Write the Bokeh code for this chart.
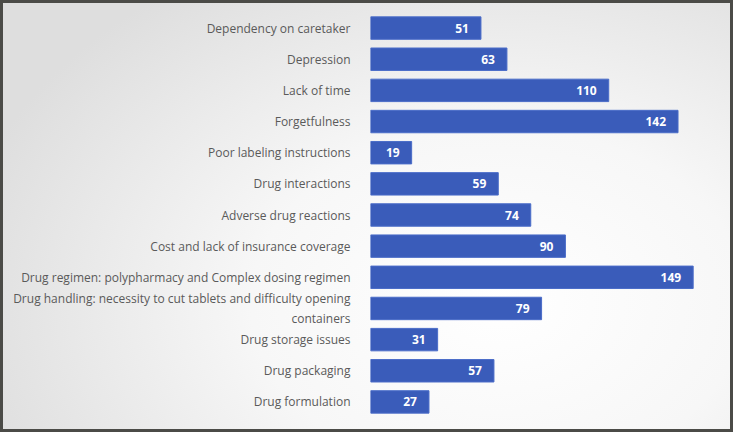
from bokeh.plotting import figure
from bokeh.models import ColumnDataSource, Range1d
from bokeh.core.properties import value
from bokeh.embed import file_html
from bokeh.resources import INLINE

categories = [
    "Dependency on caretaker",
    "Depression",
    "Lack of time",
    "Forgetfulness",
    "Poor labeling instructions",
    "Drug interactions",
    "Adverse drug reactions",
    "Cost and lack of insurance coverage",
    "Drug regimen: polypharmacy and Complex dosing regimen",
    "Drug handling: necessity to cut tablets and difficulty opening\ncontainers",
    "Drug storage issues",
    "Drug packaging",
    "Drug formulation",
]
counts = [51, 63, 110, 142, 19, 59, 74, 90, 149, 79, 31, 57, 27]
labels = [str(c) for c in counts]

factors = list(reversed(categories))
source = ColumnDataSource(dict(cat=categories, val=counts, lab=labels))

p = figure(
    width=733, height=432,
    y_range=factors,
    x_range=Range1d(0, 163),
    output_backend="svg",
    toolbar_location=None,
    min_border_left=370, min_border_right=10,
    min_border_top=12, min_border_bottom=15,
    styles={
        "outline": "3px solid #4b4b47",
        "outline-offset": "-3px",
        "background": "radial-gradient(ellipse 75% 90% at 68% 70%, #ffffff 0%, #f7f7f7 45%, #dedede 100%)",
    },
)
p.border_fill_color = None
p.background_fill_color = None
p.outline_line_color = None

p.hbar(y="cat", right="val", left=0, height=0.72, source=source,
       fill_color="#3a5cba", line_color="#4a6cc8", line_width=1)

p.text(x="val", y="cat", text="lab", source=source,
       text_align="right", text_baseline="middle", x_offset=-12,
       text_color="white", text_font=value("Open Sans"),
       text_font_style="bold", text_font_size="12px")

p.xaxis.visible = False
p.xgrid.visible = False
p.ygrid.visible = False
p.yaxis.axis_line_color = None
p.yaxis.major_tick_line_color = None
p.yaxis.minor_tick_line_color = None
p.yaxis.major_label_standoff = 14
p.yaxis.major_label_text_font = "Open Sans"
p.yaxis.major_label_text_font_size = "12px"
p.yaxis.major_label_text_color = "#5a5a5a"
p.y_range.range_padding = 0.0

open("out.html", "w").write(file_html(p, INLINE))
